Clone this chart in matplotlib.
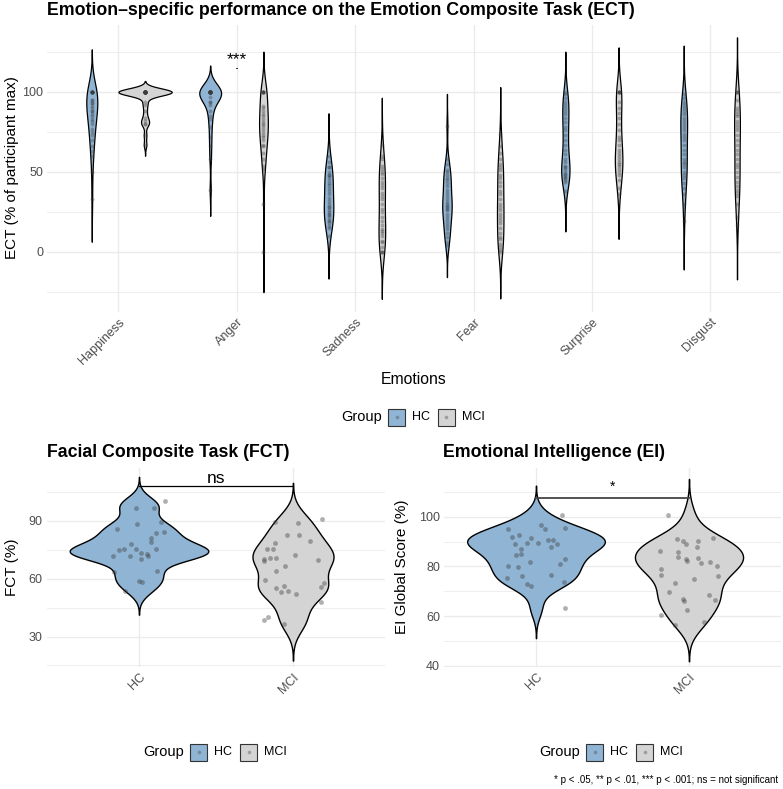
import numpy as np
import matplotlib.pyplot as plt
from matplotlib.patches import Rectangle
from matplotlib.lines import Line2D

plt.rcParams['font.family'] = ['Liberation Sans', 'DejaVu Sans']

W, H = 783, 789

# ---- data ----
emotions = ["Happiness", "Anger", "Sadness", "Fear", "Surprise", "Disgust"]
groups = ["HC", "MCI"]

hap_hc = [100]*9 + [95, 95, 93, 93, 91, 90, 88, 88, 86, 85, 83, 82, 80, 77, 75, 73, 70, 66, 63, 60, 50, 33]
hap_mci = [100]*21 + [94, 92, 88, 84, 82, 80, 80, 73, 67]
ang_hc = [100]*18 + [97, 94, 94, 92, 88, 85, 83, 78, 72, 66, 58, 39]
ang_mci = [100]*6 + [91, 90, 88, 86, 85, 83, 81, 80, 79, 77, 75, 73, 72, 70, 67, 66, 62, 58, 54, 52, 30, 0]
sad_hc = [60, 56, 53, 53, 50, 48, 48, 47, 45, 43, 42, 40, 38, 36, 34, 32, 30, 28, 28, 26, 25, 24, 23, 22, 20, 19, 18, 16, 15, 10]
sad_mci = [67, 60, 58, 54, 52, 50, 49, 46, 44, 42, 40, 37, 35, 33, 30, 27, 25, 22, 19, 17, 14, 13, 12, 10, 7, 6, 3, 0, 0, 0]
fear_hc = [79, 58, 55, 51, 50, 48, 46, 45, 43, 41, 39, 37, 35, 33, 31, 30, 29, 28, 27, 26, 24, 22, 20, 18, 16, 14, 12, 9, 6, 4]
fear_mci = [74, 66, 62, 58, 55, 53, 51, 48, 46, 44, 41, 38, 36, 33, 30, 28, 26, 24, 22, 20, 18, 15, 12, 9, 8, 5, 3, 1, 0]
sur_hc = [100, 99, 96, 94, 92, 90, 88, 86, 84, 81, 78, 76, 73, 70, 67, 64, 61, 58, 56, 54, 53, 52, 50, 49, 48, 47, 46, 45, 44, 38]
sur_mci = [100]*5 + [94, 90, 87, 84, 80, 76, 72, 70, 67, 64, 62, 60, 58, 56, 55, 54, 52, 50, 48, 45, 40, 36]
dis_hc = [99, 96, 94, 92, 90, 88, 86, 84, 82, 80, 78, 76, 74, 72, 70, 67, 64, 61, 58, 56, 55, 53, 50, 48, 46, 43, 40, 36, 30, 19]
dis_mci = [100]*3 + [95, 90, 88, 86, 85, 82, 80, 78, 76, 73, 70, 67, 64, 61, 58, 55, 53, 50, 47, 44, 41, 39, 37, 35, 30, 22, 17]

ect_hc = [hap_hc, ang_hc, sad_hc, fear_hc, sur_hc, dis_hc]
ect_mci = [hap_mci, ang_mci, sad_mci, fear_mci, sur_mci, dis_mci]
# kernel bandwidths (from tail lengths)
ect_bw_hc = [8.9, 5.5, 8.9, 6.6, 8.4, 10.0]
ect_bw_mci = [2.3, 8.4, 9.8, 9.7, 9.3, 11.4]

fct_hc = [100.4, 96.8, 96.7, 88.3, 89.1, 85.5, 84.2, 83.5, 80.9, 79.0, 77.8, 75.4, 74.9,
          75.2, 75.4, 73.2, 71.6, 71.5, 70.3, 72.9, 71.5, 63.9, 58.6, 58.2, 63.4, 53.6]
fct_hc_jit = [0.17, -0.02, 0.10, -0.01, 0.14, -0.14, 0.16, 0.11, 0.08, 0.08, -0.05, -0.10, -0.13,
              -0.02, 0.11, 0.01, -0.17, -0.06, 0.01, 0.05, 0.06, 0.12, 0.00, 0.02, -0.16, -0.09]
fct_mci = [88.8, 90.7, 82.8, 82.8, 79.7, 78.5, 75.4, 75.1, 72.4, 70.1, 70.5, 70.5, 69.1, 69.8, 66.3,
           64.1, 59.5, 55.0, 56.0, 53.0, 53.8, 51.9, 57.6, 55.5, 47.7, 38.4, 40.0, 36.4, 89.5]
fct_mci_jit = [0.03, 0.19, -0.04, 0.04, 0.11, -0.12, -0.17, -0.13, 0.01, -0.19, -0.15, -0.11, -0.19, 0.16, -0.05,
               -0.11, -0.18, -0.11, -0.06, -0.08, -0.03, 0.02, 0.20, 0.18, 0.18, -0.19, -0.16, -0.06, -0.12]
fct_bw = [4.1, 6.3]

ei_hc = [100.5, 96.5, 94.9, 95.5, 94.9, 92.0, 92.5, 91.5, 89.6, 89.1, 89.6, 90.5, 90.5, 88.0, 88.9,
         86.9, 85.1, 84.5, 82.9, 81.6, 80.9, 80.0, 79.6, 76.5, 75.2, 76.0, 72.9, 72.0, 73.6, 63.1]
ei_hc_jit = [0.17, 0.03, 0.06, 0.19, -0.18, -0.16, -0.11, -0.03, -0.06, -0.14, 0.01, 0.08, 0.11, 0.10, 0.14,
             -0.10, -0.10, -0.13, 0.19, -0.04, 0.16, -0.18, -0.12, 0.10, -0.19, -0.09, -0.06, -0.03, 0.18, 0.19]
ei_mci = [100.5, 90.9, 90.1, 88.9, 90.1, 88.0, 91.5, 86.1, 85.6, 83.9, 82.9, 82.1, 83.5, 81.5, 81.6,
          80.0, 78.9, 76.4, 76.0, 75.1, 73.5, 69.5, 68.5, 66.7, 66.1, 66.5, 62.5, 60.5, 56.5, 57.5]
ei_mci_jit = [-0.14, -0.08, -0.04, -0.02, 0.06, 0.05, 0.16, -0.19, -0.07, -0.07, -0.02, -0.01, 0.06, 0.08, 0.14,
              0.18, -0.18, -0.18, 0.19, 0.03, -0.09, -0.13, 0.13, -0.04, -0.03, 0.17, -0.01, -0.18, -0.09, 0.10]
ei_bw = [4.0, 4.9]

hc_col = "#90B4D4"
mci_col = "#D4D4D4"
pt_col = "#3A3A3A"
grid_col = "#EBEBEB"
txt_col = "#4D4D4D"


def kde(vals, bw, n=512):
    v = np.asarray(vals, float)
    y = np.linspace(v.min() - 3*bw, v.max() + 3*bw, n)
    d = np.exp(-0.5*((y[:, None] - v[None, :])/bw)**2).sum(1) / (len(v)*bw*np.sqrt(2*np.pi))
    return y, d


def add_ax(l, t, r, b):
    return fig.add_axes([l/W, 1 - b/H, (r - l)/W, (b - t)/H])


def style(ax, yt, ymin):
    for s in ax.spines.values():
        s.set_visible(False)
    ax.set_yticks(yt)
    ax.set_yticks(ymin, minor=True)
    ax.tick_params(which='both', length=0, labelsize=9, labelcolor=txt_col, pad=3)
    ax.tick_params(axis='x', which='minor', bottom=False)
    ax.grid(True, which='major', color=grid_col, lw=1.0)
    ax.grid(True, which='minor', axis='y', color=grid_col, lw=0.6)
    ax.set_axisbelow(True)


def violins(ax, datas, bws, xs, cols, half, lw):
    curves = [kde(d, b) for d, b in zip(datas, bws)]
    dmax = max(c[1].max() for c in curves)
    for (y, d), x, c in zip(curves, xs, cols):
        hw = d / dmax * half
        ax.fill_betweenx(y, x - hw, x + hw, facecolor=c, edgecolor='black', lw=lw, zorder=2)


def group_legend(cx, cy):
    s = cx - 73
    fig.text(s/W, 1 - cy/H, "Group", fontsize=10.5, va='center', ha='left')
    for k, (lab, c) in enumerate(zip(groups, [hc_col, mci_col])):
        kx = s + 47 + 50*k
        fig.add_artist(Rectangle((kx/W, 1 - (cy + 8.5)/H), 17/W, 17/H, transform=fig.transFigure,
                                 facecolor=c, edgecolor='#333333', lw=0.8))
        fig.add_artist(Line2D([(kx + 8.5)/W], [1 - cy/H], marker='o', ms=2.6, color=pt_col, alpha=0.35,
                              mec='none', transform=fig.transFigure))
        fig.text((kx + 24)/W, 1 - cy/H, lab, fontsize=9, va='center', ha='left')


fig = plt.figure(figsize=(W/100, H/100), dpi=100)

# ---- top panel: ECT by emotion ----
ax = add_ax(47.4, 24.5, 781.4, 312)
pos = np.arange(1, len(emotions) + 1)
all_d, all_bw, all_x, all_c = [], [], [], []
for i in range(len(emotions)):
    all_d += [ect_hc[i], ect_mci[i]]
    all_bw += [ect_bw_hc[i], ect_bw_mci[i]]
    all_x += [pos[i] - 0.225, pos[i] + 0.225]
    all_c += [hc_col, mci_col]
violins(ax, all_d, all_bw, all_x, all_c, 0.225, 0.9)
for d, x in zip(all_d, all_x):
    ax.scatter(np.full(len(d), x), d, s=8, color=pt_col, alpha=0.35, lw=0, zorder=3)
ax.text(2, 117.5, "***", ha='center', va='baseline', fontsize=12.5)
ax.plot([2 - 0.004, 2 + 0.004], [114.8, 114.8], color='black', lw=0.6)
ax.set_xlim(0.4, 6.6)
ax.set_ylim(-37.6, 142.2)
ax.set_xticks(pos)
ax.set_xticklabels(emotions, rotation=45, ha='right', va='top', rotation_mode='anchor')
style(ax, [0, 50, 100], [-25, 25, 75, 125])

fig.text(47/W, 1 - 15/H, "Emotion\u2013specific performance on the Emotion Composite Task (ECT)",
         fontsize=12.8, fontweight='bold', ha='left', va='baseline')
fig.text(12/W, 1 - 168/H, "ECT (% of participant max)", rotation=90, fontsize=11, ha='center', va='center')
fig.text(414/W, 1 - 380/H, "Emotions", fontsize=11.3, ha='center', va='center')
group_legend(414, 417)

# ---- bottom left: FCT ----
ax2 = add_ax(46.6, 468, 385.4, 667)
violins(ax2, [fct_hc, fct_mci], fct_bw, [1, 2], [hc_col, mci_col], 0.45, 1.0)
ax2.scatter(1 + np.array(fct_hc_jit), fct_hc, s=12, color=pt_col, alpha=0.4, lw=0, zorder=3)
ax2.scatter(2 + np.array(fct_mci_jit), fct_mci, s=12, color=pt_col, alpha=0.4, lw=0, zorder=3)
ax2.plot([1, 2], [108.0, 108.0], color='black', lw=0.9, zorder=4)
ax2.text(1.5, 109.3, "ns", ha='center', va='baseline', fontsize=12.5)
ax2.set_xlim(0.4, 2.6)
ax2.set_ylim(14.2, 117.3)
ax2.set_xticks([1, 2])
ax2.set_xticklabels(groups, rotation=45, ha='right', va='top', rotation_mode='anchor')
style(ax2, [30, 60, 90], [15, 45, 75, 105])
fig.text(47/W, 1 - 457/H, "Facial Composite Task (FCT)", fontsize=12.75, fontweight='bold',
         ha='left', va='baseline')
fig.text(12/W, 1 - 567/H, "FCT (%)", rotation=90, fontsize=11, ha='center', va='center')
group_legend(216, 752)

# ---- bottom right: EI ----
ax3 = add_ax(444.2, 468, 780.8, 667)
violins(ax3, [ei_hc, ei_mci], ei_bw, [1, 2], [hc_col, mci_col], 0.45, 1.0)
ax3.scatter(1 + np.array(ei_hc_jit), ei_hc, s=12, color=pt_col, alpha=0.4, lw=0, zorder=3)
ax3.scatter(2 + np.array(ei_mci_jit), ei_mci, s=12, color=pt_col, alpha=0.4, lw=0, zorder=3)
ax3.plot([1, 2], [107.7, 107.7], color='#444444', lw=1.3, zorder=4)
ax3.text(1.5, 110.5, "*", ha='center', va='baseline', fontsize=10)
ax3.set_xlim(0.4, 2.6)
ax3.set_ylim(39.5, 119.6)
ax3.set_xticks([1, 2])
ax3.set_xticklabels(groups, rotation=45, ha='right', va='top', rotation_mode='anchor')
style(ax3, [40, 60, 80, 100], [50, 70, 90, 110])
fig.text(443/W, 1 - 457/H, "Emotional Intelligence (EI)", fontsize=12.75, fontweight='bold',
         ha='left', va='baseline')
fig.text(402/W, 1 - 567/H, "EI Global Score (%)", rotation=90, fontsize=11, ha='center', va='center')
group_legend(612, 752)

fig.text(778/W, 1 - 780/H, "* p < .05, ** p < .01, *** p < .001; ns = not significant",
         fontsize=7, ha='right', va='center')

fig.savefig("out.png", dpi=100)
